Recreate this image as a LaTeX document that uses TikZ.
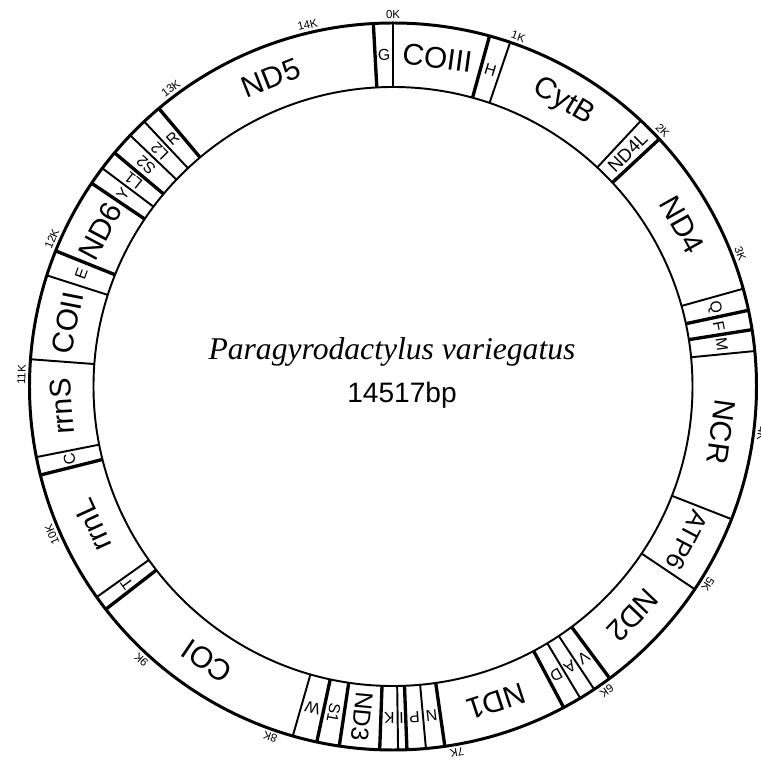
\documentclass[tikz,border=0pt]{standalone}
\usepackage{fontspec}
\setmainfont{Liberation Sans}
\newfontfamily\titlefont{Liberation Serif}
\usetikzlibrary{positioning, calc}

\begin{document}
\begin{tikzpicture}[
  gene/.style={font=\fontsize{17}{17}\selectfont, inner sep=0pt},
  trna/.style={font=\fontsize{9}{9}\selectfont, inner sep=0pt},
  kbtick/.style={font=\fontsize{6.5}{6.5}\selectfont, inner sep=0.5pt, anchor=south},
  sep/.style={line width=1.1pt},
  sepbold/.style={line width=1.9pt}]
  \fill[white] (-7.86,-7.49) rectangle (7.36,7.73);
  \useasboundingbox (-7.86,-7.49) rectangle (7.36,7.73);

  % ring
  \draw[line width=1.7pt] (0,0) circle (7.27);
  \draw[line width=1.1pt] (0,0) circle (5.99);

  % gene borders (degrees clockwise from 0K)
  \foreach \a in {0, 18.8, 43.0, 74.4, 84.4, 111.4, 123.9, 146.4, 149.0, 174.8,
                  179.2, 196.0, 234.6, 258.8, 274.3, 287.8, 306.9, 313.7, 316.8}
    \draw[sep] ({90-\a}:5.99) -- ({90-\a}:7.27);
  \foreach \a in {356.9, 15.4, 47.1, 77.9, 81.0, 143.4, 152.0, 171.8, 177.8, 182.1,
                  188.5, 192.1, 232.2, 255.9, 291.9, 304.0, 310.0, 319.9}
    \draw[sepbold] ({90-\a}:5.99) -- ({90-\a}:7.27);

  % protein genes, rRNAs, NCR
  \foreach \a/\t [count=\i] in {7.7/COIII, 30.9/CytB, 60.75/ND4, 97.9/NCR,
      133.65/ND2, 161.9/ND1, 214.1/COI, 245.25/rrnL, 266.55/rrnS,
      281.05/COII, 297.95/ND6, 338.4/ND5}
    \node[gene, rotate=-\a] (g\i) at ({90-\a}:6.63) {\t};
  \node[gene, font=\fontsize{14.5}{14.5}\selectfont, rotate=-117.65] (atp) at ({90-117.65}:6.63) {ATP6};

  % narrow ones, written outwards
  \node[gene, font=\fontsize{10.5}{10.5}\selectfont, rotate=45] (nd4l) at ({90-45.05}:6.63) {ND4L};
  \node[gene, font=\fontsize{14}{14}\selectfont, rotate=-95.3] (nd3) at ({90-185.3}:6.63) {ND3};
  \foreach \a/\t [count=\i] in {190.3/S1, 308.45/L1, 311.85/S2, 315.25/L2}
    \node[trna, rotate={90-\a}] (r\i) at ({90-\a}:6.63) {\t};

  % tRNAs
  \foreach \a/\t [count=\i] in {358.45/G, 17.1/H, 76.15/Q, 79.45/F, 82.7/M,
      144.9/V, 147.7/A, 150.5/D, 173.3/N, 176.3/P, 178.5/I, 180.65/K,
      194.05/W, 233.4/T, 257.35/C, 289.85/E, 305.45/Y, 318.35/R}
    \node[trna, rotate=-\a] (t\i) at ({90-\a}:6.63) {\t};

  % kb marks
  \foreach \k/\a in {0/0, 1/19.7, 2/46.5, 3/69.1, 4/97.3, 5/122.1, 6/144.9, 7/170.1,
                     8/199.3, 9/222.6, 10/246.5, 11/271.8, 12/293.4, 13/323.3, 14/346.7}
    \node[kbtick, rotate=-\a] (k\k) at ({90-\a}:7.33) {\k K};

  % centre
  \node[font=\titlefont\itshape\fontsize{18}{18}\selectfont, anchor=base] (species) at (-0.02,0.53) {Paragyrodactylus variegatus};
  \node[font=\fontsize{16}{16}\selectfont, anchor=base] (size) at (0.18,-0.33) {14517bp};
\end{tikzpicture}
\end{document}
